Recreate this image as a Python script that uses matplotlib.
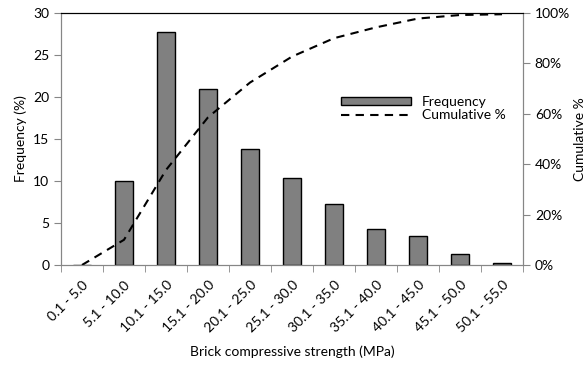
import matplotlib
matplotlib.use("Agg")
import matplotlib.pyplot as plt
import numpy as np
from matplotlib.ticker import FuncFormatter

plt.rcParams['font.family'] = ['Lato', 'DejaVu Sans']

categories = ["0.1 - 5.0", "5.1 - 10.0", "10.1 - 15.0", "15.1 - 20.0", "20.1 - 25.0",
              "25.1 - 30.0", "30.1 - 35.0", "35.1 - 40.0", "40.1 - 45.0", "45.1 - 50.0",
              "50.1 - 55.0"]
frequency = [0.0, 10.0, 27.7, 20.9, 13.8, 10.3, 7.3, 4.3, 3.5, 1.3, 0.2]
cumulative = [0.0, 10.0, 37.7, 58.6, 72.4, 82.7, 90.0, 94.3, 97.8, 99.2, 99.5]

fig = plt.figure(figsize=(5.87, 3.65), dpi=100)
ax = fig.add_axes([61/587, 1-265/365, 462/587, 252/365])
x = np.arange(len(categories))
bars = ax.bar(x, frequency, width=0.42, color='#808080', edgecolor='black', linewidth=1.0,
              label='Frequency', zorder=2)
ax.set_xlim(-0.5, len(categories) - 0.5)
ax.set_ylim(0, 30)
ax.set_yticks([0, 5, 10, 15, 20, 25, 30])
ax.set_xticks(x)
ax.set_xticklabels(categories, rotation=45, ha='right', rotation_mode='anchor', fontsize=10)
ax.tick_params(axis='x', which='major', length=0, pad=10)
ax.set_xticks(np.arange(-0.5, len(categories) + 0.5, 1), minor=True)
ax.tick_params(axis='x', which='minor', length=5, color='#868686', direction='out')
ax.tick_params(axis='y', length=5, color='#868686', labelsize=10)
ax.set_ylabel('Frequency (%)', fontsize=10)
ax.set_xlabel('Brick compressive strength (MPa)', fontsize=10, labelpad=8)
for s in ['left', 'bottom', 'right']:
    ax.spines[s].set_color('#868686')
ax.spines['top'].set_color('black')

ax2 = ax.twinx()
line, = ax2.plot(x, cumulative, color='black', linestyle=(0, (4, 3)), linewidth=1.5,
                 label='Cumulative %')
ax2.set_ylim(0, 100)
ax2.set_yticks([0, 20, 40, 60, 80, 100])
ax2.yaxis.set_major_formatter(FuncFormatter(lambda v, p: f"{int(v)}%"))
ax2.tick_params(axis='y', length=5, color='#868686', labelsize=10)
ax2.set_ylabel('Cumulative %', fontsize=10, labelpad=3)
for s in ['left', 'bottom', 'right']:
    ax2.spines[s].set_color('#868686')
ax2.spines['top'].set_color('black')

ax2.legend([bars, line], ['Frequency', 'Cumulative %'], loc='upper left',
           bbox_to_anchor=(0.58, 0.72), frameon=False, fontsize=10,
           handlelength=5, handleheight=0.5, labelspacing=0.1)

fig.savefig('out.png', dpi=100)
